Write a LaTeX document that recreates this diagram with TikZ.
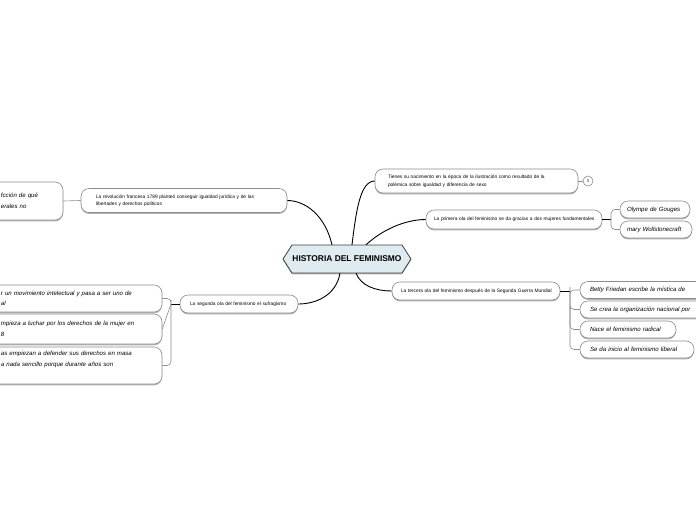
\documentclass[tikz,border=0pt]{standalone}
\usepackage{fontspec}
\setmainfont{Liberation Sans}
\usetikzlibrary{shadows}
\newcommand\smalltxt{\fontsize{4.85}{7.5}\selectfont}
\newcommand\handtxt{\fontsize{6.1}{10.5}\selectfont\itshape}
\definecolor{rootfill}{HTML}{DFEAF1}
\definecolor{boxline}{HTML}{8C8C8C}
\tikzset{
  box/.style={draw=boxline, line width=0.6pt, fill=white, rounded corners=8pt,
    align=left, inner ysep=0pt,
    drop shadow={shadow xshift=0pt, shadow yshift=-1.4pt, fill=black!30, opacity=1}},
  topictxt/.style={box, font=\smalltxt},
  subtxt/.style={box, font=\handtxt},
  trunk/.style={draw=black, line width=0.9pt},
  twig/.style={draw=boxline, line width=0.6pt, rounded corners=4pt},
}
\begin{document}
\begin{tikzpicture}[x=1pt,y=-1pt]
\useasboundingbox (0,0) rectangle (696,520);
\clip (0,0) rectangle (696,520);
\fill[white] (0,0) rectangle (696,520);

% root
\fill[black!30] (283,260.4) -- (292,246.4) -- (402,246.4) -- (411,260.4) -- (402,274.4) -- (292,274.4) -- cycle;
\filldraw[fill=rootfill, draw=black!75, line width=0.8pt]
  (283,259) -- (292,245) -- (402,245) -- (411,259) -- (402,273) -- (292,273) -- cycle;
\node[font=\bfseries\fontsize{8.4}{9}\selectfont, inner sep=0pt, minimum width=128pt, minimum height=28pt] (root) at (347,259) {HISTORIA DEL FEMINISMO};

% branch topics
\node[topictxt, minimum width=203pt, minimum height=24pt, text width=177pt, inner xsep=13pt] (tienes) at (476.5,181)
  {Tienes su nacimiento en la época de la ilustración como resultado de la\\polémica sobre igualdad y diferencia de sexo};
\node[draw=boxline, line width=0.6pt, fill=white, circle, minimum size=10pt, inner sep=0pt, font=\fontsize{4}{4}\selectfont] (cnt) at (588,181) {3};

\node[topictxt, minimum width=176pt, minimum height=19pt, text width=164pt, inner xsep=6pt] (primera) at (514,219.5)
  {\hspace*{2pt}La primera ola del feminismo se da gracias a dos mujeres fundamentales};
\node[subtxt, minimum width=70pt, minimum height=17pt, text width=56pt, inner xsep=7pt] (olympe) at (655,209.5) {Olympe de Gouges};
\node[subtxt, minimum width=72pt, minimum height=17pt, text width=58pt, inner xsep=7pt] (mary) at (656,229.5) {mary Wollstonecraft};

\node[topictxt, minimum width=206pt, minimum height=24pt, text width=176pt, inner xsep=15pt] (rev) at (184,200.5)
  {La revolución francesa 1789 planteó conseguir igualdad jurídica y de las\\libertades y derechos políticos};
\node[subtxt, minimum width=93pt, minimum height=38pt, text width=73pt, inner xsep=10pt] (revc) at (16.5,201)
  {\hspace*{21pt}fcción de qué\\\hspace*{21pt}erales no};

\node[topictxt, minimum width=118pt, minimum height=18pt, text width=104pt, inner xsep=7pt] (segunda) at (239,304)
  {\hspace*{3pt}La segunda ola del feminismo el sufragismo};
\node[subtxt, minimum width=182pt, minimum height=27pt, text width=166pt, inner xsep=8pt] (sa) at (71,298.5)
  {\hspace*{13pt}r un movimiento intelectual y pasa a ser uno de\\\hspace*{13pt}al};
\node[subtxt, minimum width=182pt, minimum height=30pt, text width=166pt, inner xsep=8pt] (sb) at (71,329)
  {\hspace*{13pt}mpieza a luchar por los derechos de la mujer en\\\hspace*{13pt}8};
\node[subtxt, minimum width=182pt, minimum height=37pt, text width=166pt, inner xsep=8pt] (sc) at (71,365.5)
  {\hspace*{13pt}as empiezan a defender sus derechos en masa\\\hspace*{13pt}a nada sencillo porque durante años son\\\strut};

\node[topictxt, minimum width=168pt, minimum height=18pt, text width=156pt, inner xsep=6pt] (tercera) at (476,291)
  {\hspace*{3pt}La tercera ola del feminismo después de la Segunda Guerra Mundial};
\node[subtxt, minimum width=150pt, minimum height=17pt, text width=130pt, inner xsep=10pt] (betty) at (655,290) {Betty Friedan escribe la mística de};
\node[subtxt, minimum width=150pt, minimum height=17pt, text width=130pt, inner xsep=10pt] (crea) at (655,309.5) {Se crea la organización nacional por};
\node[subtxt, minimum width=96pt, minimum height=17pt, text width=76pt, inner xsep=10pt] (nace) at (628,329.5) {Nace el feminismo radical};
\node[subtxt, minimum width=114pt, minimum height=17pt, text width=94pt, inner xsep=10pt] (seda) at (637,349.5) {Se da inicio al feminismo liberal};

% connectors from root
\draw[trunk] ([xshift=-15pt]root.north) .. controls (325,215) and (305,200.5) .. (rev.east);
\draw[trunk] ([xshift=5pt]root.north) .. controls (356,212) and (360,181) .. (tienes.west);
\draw[trunk] ([xshift=19pt]root.north) .. controls (382,230) and (405,219.5) .. (primera.west);
\draw[trunk] ([xshift=-7pt]root.south) .. controls (336,296) and (315,304) .. (segunda.east);
\draw[trunk] ([xshift=9pt]root.south) .. controls (361,286) and (376,291) .. (tercera.west);

% sub connectors
\draw[twig] (tienes.east) -- (cnt.west);
\draw[twig] (rev.west) -- (revc.east);

\coordinate (pj) at (611,219.5);
\draw[trunk] (primera.east) -- (pj);
\draw[twig] (olympe.west) -| (pj) |- (mary.west);

\coordinate (sj) at (171,304);
\draw[trunk] (segunda.west) -- (sj);
\draw[twig] (sa.east) -| (sj) |- (sc.east);
\draw[twig] (sb.east) -- (sj);

\coordinate (tj) at (570,291);
\draw[trunk] (tercera.east) -- (tj);
\draw[twig] (betty.west) -| (tj) |- (seda.west);
\draw[twig] (crea.west) -| (tj) |- (nace.west);
\end{tikzpicture}
\end{document}
